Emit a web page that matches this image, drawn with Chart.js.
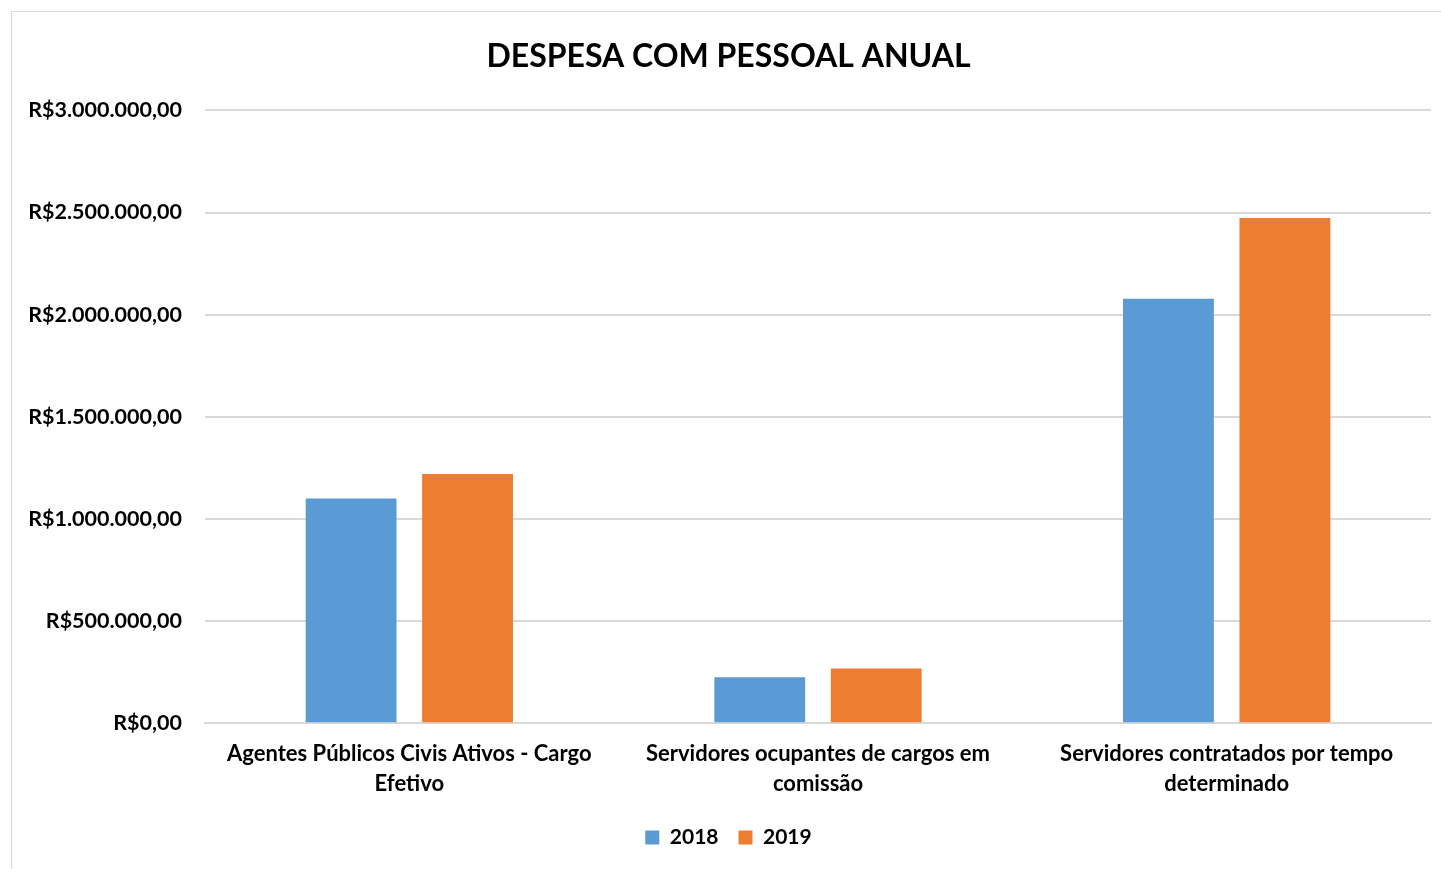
<!DOCTYPE html>
<html>
<head>
<meta charset="utf-8">
<script src="https://cdn.jsdelivr.net/npm/chart.js@4.4.0/dist/chart.umd.min.js"></script>
<style>
  html, body { margin: 0; padding: 0; background: #fff; }
  #box {
    position: absolute; left: 11px; top: 11px;
    width: 1430px; height: 858px;
    border-left: 1px solid #d9d9d9; border-top: 1px solid #d9d9d9;
    box-sizing: border-box;
  }
  #box canvas { display: block; }
</style>
</head>
<body>
<div id="box"><canvas id="grafico"></canvas></div>
<script>
// Dados
const categorias = [
    ['Agentes Públicos Civis Ativos - Cargo', 'Efetivo'],
    ['Servidores ocupantes de cargos em', 'comissão'],
    ['Servidores contratados por tempo', 'determinado']
];
const anos = ['2018', '2019'];
const valores2018 = [1100000, 225000, 2078000];
const valores2019 = [1220000, 268000, 2473000];
const cores = ['#5b9bd5', '#ed7d31'];

// R$ formatado no padrão brasileiro
function formatarReal(v) {
    const inteiro = Math.round(v).toString().replace(/\B(?=(\d{3})+(?!\d))/g, '.');
    return 'R$' + inteiro + ',00';
}

const fonte = "Lato, 'Open Sans', sans-serif";
const ctx = document.getElementById('grafico');
ctx.width = 1429;
ctx.height = 857;

new Chart(ctx, {
    type: 'bar',
    data: {
        labels: categorias,
        datasets: [{
            label: anos[0],
            data: valores2018,
            backgroundColor: cores[0],
            categoryPercentage: 0.57,
            barPercentage: 0.78
        }, {
            label: anos[1],
            data: valores2019,
            backgroundColor: cores[1],
            categoryPercentage: 0.57,
            barPercentage: 0.78
        }]
    },
    options: {
        responsive: false,
        animation: false,
        layout: {
            padding: { left: 14, right: 10, top: 14, bottom: 11 }
        },
        plugins: {
            title: {
                display: true,
                text: 'DESPESA COM PESSOAL ANUAL',
                color: '#000',
                font: { family: fonte, size: 32, weight: 'bold' },
                padding: { top: 11, bottom: 35 }
            },
            legend: {
                position: 'bottom',
                labels: {
                    color: '#000',
                    boxWidth: 14,
                    boxHeight: 14,
                    padding: 20,
                    font: { family: fonte, size: 21, weight: 'bold' }
                }
            },
            tooltip: { enabled: false }
        },
        scales: {
            y: {
                min: 0,
                max: 3000000,
                ticks: {
                    stepSize: 500000,
                    color: '#000',
                    padding: 23,
                    font: { family: fonte, size: 21.5, weight: 'bold' },
                    callback: (v) => formatarReal(v)
                },
                border: { display: false },
                grid: { color: '#d9d9d9', lineWidth: 2, drawTicks: false },
                afterFit: (scale) => { scale.width = 179; }
            },
            x: {
                ticks: {
                    color: '#000',
                    padding: 8,
                    maxRotation: 0,
                    font: { family: fonte, size: 22, weight: 'bold', lineHeight: 1.36 }
                },
                border: { color: '#d9d9d9', width: 2 },
                grid: { display: false }
            }
        }
    }
});
</script>
</body>
</html>
